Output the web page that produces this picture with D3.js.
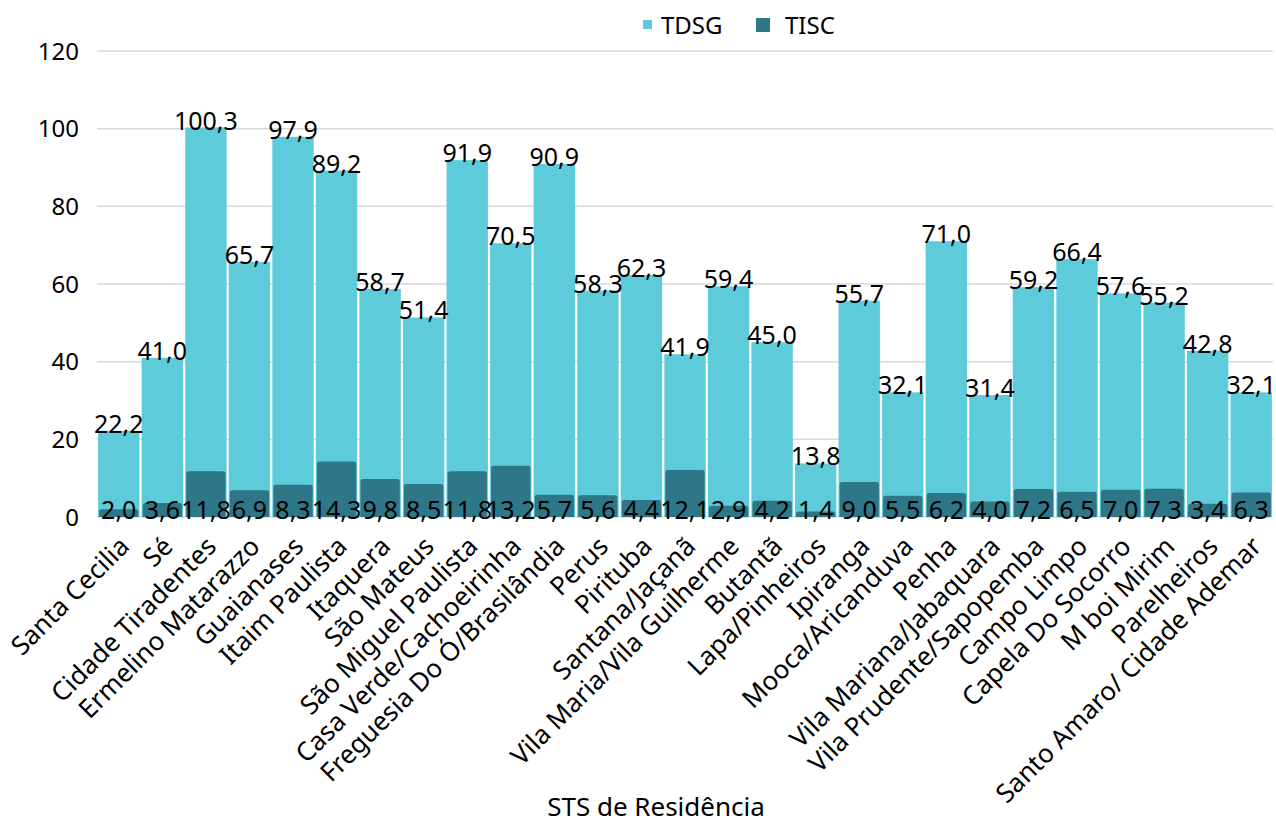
<!DOCTYPE html>
<html><head><meta charset="utf-8">
<script src="https://cdn.jsdelivr.net/npm/d3@7"></script>
<style>
html,body{margin:0;padding:0;background:#fff;}
text{font-family:"Noto Sans",sans-serif;fill:#000;}
</style></head>
<body><svg id="c" width="1276" height="823"></svg>
<script>
const categories = ["Santa Cecilia","Sé","Cidade Tiradentes","Ermelino Matarazzo","Guaianases","Itaim Paulista","Itaquera","São Mateus","São Miguel Paulista","Casa Verde/Cachoeirinha","Freguesia Do Ó/Brasilândia","Perus","Pirituba","Santana/Jaçanã","Vila Maria/Vila Guilherme","Butantã","Lapa/Pinheiros","Ipiranga","Mooca/Aricanduva","Penha","Vila Mariana/Jabaquara","Vila Prudente/Sapopemba","Campo Limpo","Capela Do Socorro","M boi Mirim","Parelheiros","Santo Amaro/ Cidade Ademar"];
const tdsg = [22.2,41.0,100.3,65.7,97.9,89.2,58.7,51.4,91.9,70.5,90.9,58.3,62.3,41.9,59.4,45.0,13.8,55.7,32.1,71.0,31.4,59.2,66.4,57.6,55.2,42.8,32.1];
const tisc = [2.0,3.6,11.8,6.9,8.3,14.3,9.8,8.5,11.8,13.2,5.7,5.6,4.4,12.1,2.9,4.2,1.4,9.0,5.5,6.2,4.0,7.2,6.5,7.0,7.3,3.4,6.3];
const yTicks = [0,20,40,60,80,100,120];
const seriesNames = ["TDSG","TISC"];
const colors = ["#5ecbdb","#2e7788"];

const svg = d3.select("#c");
const x = d3.scaleBand().domain(categories).range([97,1273]).paddingInner(0.05).paddingOuter(0.025);
const y = d3.scaleLinear().domain([0,120]).range([517,51]);
const fmt = v => d3.format(".1f")(v).replace(".", ",");

svg.append("g").selectAll("line").data(yTicks).join("line")
  .attr("x1",97).attr("x2",1273)
  .attr("y1",d=>y(d)).attr("y2",d=>y(d))
  .attr("stroke","#d9d9d9").attr("stroke-width",1.5);

svg.append("g").selectAll("text").data(yTicks).join("text")
  .attr("x",79).attr("y",d=>y(d)).attr("dy","0.36em")
  .attr("text-anchor","end").style("font-size","24px").text(d=>d);

svg.append("g").selectAll("rect").data(tdsg).join("rect")
  .attr("x",(d,i)=>x(categories[i])).attr("width",x.bandwidth())
  .attr("y",d=>y(d)).attr("height",d=>y(0)-y(d)).attr("fill",colors[0]);

const r = 2.5;
svg.append("g").selectAll("path").data(tisc).join("path")
  .attr("d",(d,i)=>{
    const x0 = x(categories[i])+1, w = x.bandwidth()-2, y0 = y(d), yb = y(0);
    return `M${x0},${yb}L${x0},${y0+r}Q${x0},${y0} ${x0+r},${y0}L${x0+w-r},${y0}Q${x0+w},${y0} ${x0+w},${y0+r}L${x0+w},${yb}Z`;
  }).attr("fill",colors[1]);

svg.append("g").selectAll("text").data(tisc).join("text")
  .attr("x",(d,i)=>x(categories[i])+x.bandwidth()/2).attr("y",y(0)+2)
  .attr("text-anchor","middle").style("font-size","25px").text(d=>fmt(d));

svg.append("g").selectAll("text").data(tdsg).join("text")
  .attr("x",(d,i)=>x(categories[i])+x.bandwidth()/2).attr("y",d=>y(d)+2)
  .attr("text-anchor","middle").style("font-size","25px").text(d=>fmt(d));

svg.append("g").selectAll("text").data(categories).join("text")
  .attr("transform",d=>`translate(${x(d)+x.bandwidth()/2+12},548) rotate(-45)`)
  .attr("text-anchor","end").style("font-size","26px").text(d=>d);

svg.append("text").attr("x",656).attr("y",816).attr("text-anchor","middle")
  .style("font-size","26px").text("STS de Residência");

const lg = svg.append("g");
lg.append("rect").attr("x",643).attr("y",20).attr("width",9).attr("height",9).attr("fill",colors[0]);
lg.append("text").attr("x",661).attr("y",34).style("font-size","24px").text(seriesNames[0]);
lg.append("rect").attr("x",756).attr("y",18).attr("width",14).attr("height",14).attr("fill",colors[1]);
lg.append("text").attr("x",785).attr("y",34).style("font-size","24px").text(seriesNames[1]);
</script></body></html>
